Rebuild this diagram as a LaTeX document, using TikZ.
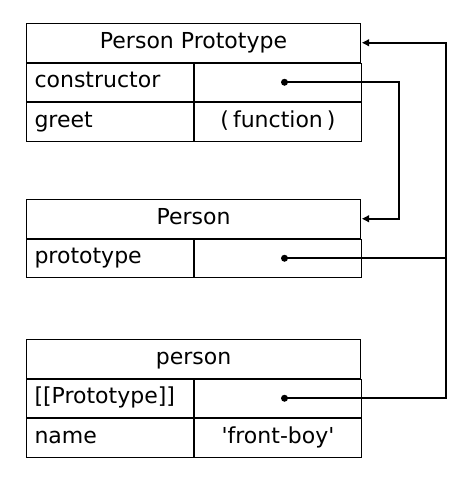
\documentclass[tikz,border=0pt]{standalone}
\usepackage{fontspec}
\setmainfont{DejaVu Sans}
\usetikzlibrary{arrows.meta}
\tikzset{
  cellbase/.style={draw=black, line width=1pt, inner sep=0pt, minimum height=38.5pt,
    font=\fontsize{22}{26}\selectfont, text height=16pt, text depth=5pt},
  head/.style={cellbase, minimum width=334pt, anchor=north west},
  keycell/.style={cellbase, minimum width=167pt, text width=151pt, inner xsep=8pt, align=left, anchor=north west},
  valcell/.style={cellbase, minimum width=167pt, anchor=north west},
  dotn/.style={circle, fill=black, inner sep=0pt, minimum size=7pt},
  conn/.style={line width=2.3pt, line join=miter},
  arr/.style={conn, -{Triangle[length=7pt,width=6.5pt]}}
}
\begin{document}
\begin{tikzpicture}[x=1pt, y=-1pt]
\useasboundingbox (0,0) rectangle (471,477);
% Person Prototype
\node[head] (pp) at (26,23) {Person Prototype};
\node[keycell] (ppc) at (pp.south west) {constructor};
\node[valcell] (ppcv) at (ppc.north east) {};
\node[keycell] (ppg) at (ppc.south west) {greet};
\node[valcell] (ppgv) at (ppg.north east) {(\hspace{4pt}function\hspace{4pt})};
% Person
\node[head] (pers) at (26,199) {Person};
\node[keycell] (persp) at (pers.south west) {prototype};
\node[valcell] (perspv) at (persp.north east) {};
% person
\node[head] (obj) at (26,339) {person};
\node[keycell] (objp) at (obj.south west) {[[Prototype]]};
\node[valcell] (objpv) at (objp.north east) {};
\node[keycell] (objn) at (objp.south west) {name};
\node[valcell] (objnv) at (objn.north east) {\textquotesingle front-boy\textquotesingle};
% dots
\node[dotn] (d1) at ([xshift=6.5pt]ppcv.center) {};
\node[dotn] (d2) at ([xshift=6.5pt]perspv.center) {};
\node[dotn] (d3) at ([xshift=6.5pt]objpv.center) {};
\coordinate (bus) at (446,0);
\coordinate (cbus) at (399,0);
% connectors
\draw[arr] (d1.center) -- (d1.center -| cbus) |- ([xshift=1pt]pers.east);
\draw[conn] (d2.center) -- (d2.center -| bus);
\draw[arr] (d3.center) -- (d3.center -| bus) |- ([xshift=1pt]pp.east);
\end{tikzpicture}
\end{document}
